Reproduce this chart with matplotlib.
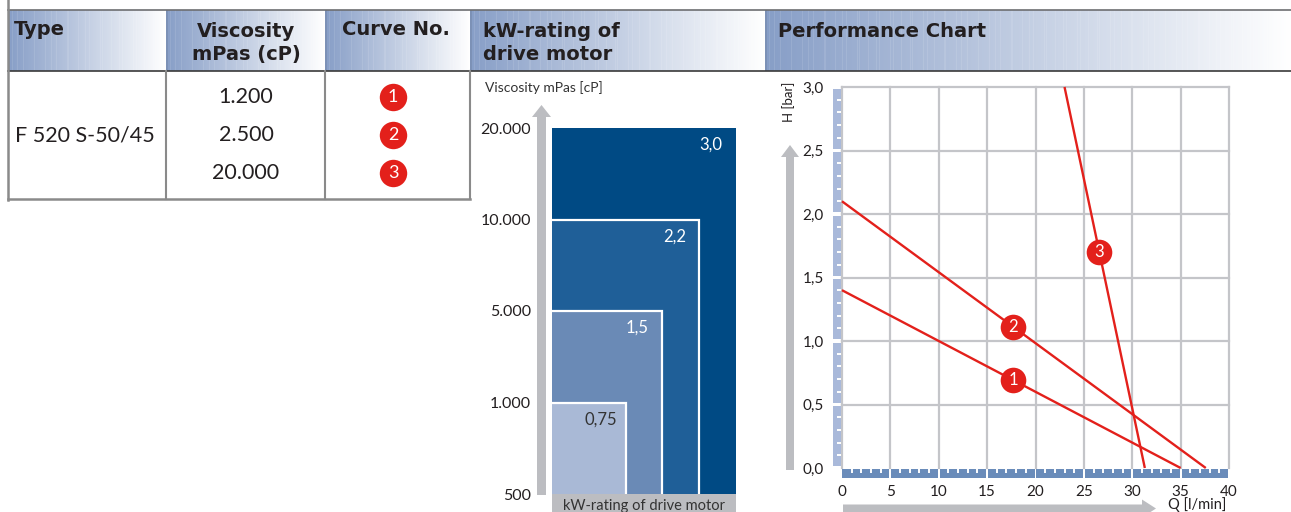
import numpy as np
import matplotlib.pyplot as plt
from matplotlib.patches import Rectangle, FancyArrow

W, H = 1291, 512

# table
pump_type = "F 520 S-50/45"
viscosities = ["1.200", "2.500", "20.000"]
curve_ids = ["1", "2", "3"]

# kW-rating of drive motor
visc_levels = ["500", "1.000", "5.000", "10.000", "20.000"]
kw_ratings = ["0,75", "1,5", "2,2", "3,0"]
kw_colors = ["#a9b9d6", "#6a8ab6", "#1f5f98", "#004a84"]
kw_text_colors = ["#333333", "white", "white", "white"]

# performance curves: Q [l/min] -> H [bar]
q_curves = [[0, 35.0], [0, 37.6], [23.0, 31.3]]
h_curves = [[1.4, 0.0], [2.1, 0.0], [3.0, 0.0]]
marker_q = [17.7, 17.7, 26.6]

RED = "#e3201b"
GREY_ARROW = "#bcbdc1"
TXT = "#231f20"
REG = "Lato"
BOLD = "DejaVu Sans"

fig = plt.figure(figsize=(W / 100, H / 100), dpi=100)
bg = fig.add_axes([0, 0, 1, 1])
bg.axis('off')


def px_axes(x0, y0, x1, y1):
    return fig.add_axes([x0 / W, 1 - y1 / H, (x1 - x0) / W, (y1 - y0) / H])


# header strip with gradient
head_cells = [(8, 166), (166, 325), (325, 470), (470, 765), (765, 1291)]
c0 = np.array([0.53, 0.62, 0.78])
for x0, x1 in head_cells:
    n = int(x1 - x0)
    t = np.linspace(0, 1, n)[:, None]
    col = c0[None, :] * (1 - t) + t
    idx = np.arange(n)
    stripe = (idx % 11 == 4) | (idx % 17 == 9)
    col[stripe] = col[stripe] * 0.9 + 0.1
    col[:2] = c0 * 0.92
    img = np.repeat(col[None, :, :], 2, axis=0)
    bg.imshow(img, extent=(x0, x1, 71, 10), aspect='auto', interpolation='nearest', zorder=0)

bg.plot([8, W], [9.5, 9.5], color="#6d6e71", lw=1.2)
bg.plot([8, W], [71, 71], color="#3a3a3a", lw=1.2)
bg.plot([8, 8], [0, 200], color="#8a8a8a", lw=1.8)
for x in [166, 325, 470]:
    bg.plot([x, x], [71, 199], color="#8a8a8a", lw=1.5)
bg.plot([8, 470], [199, 199], color="#8a8a8a", lw=1.8)

hkw = dict(family=BOLD, weight='bold', fontsize=14, color=TXT)
bg.text(14, 35, "Type", ha='left', va='baseline', **hkw)
bg.text(246, 37, "Viscosity", ha='center', va='baseline', **hkw)
bg.text(246, 60, "mPas (cP)", ha='center', va='baseline', **hkw)
bg.text(396, 35, "Curve No.", ha='center', va='baseline', **hkw)
bg.text(483, 37, "kW-rating of", ha='left', va='baseline', **hkw)
bg.text(483, 60, "drive motor", ha='left', va='baseline', **hkw)
bg.text(778, 37, "Performance Chart", ha='left', va='baseline', **hkw)

# table body
row_y = [97, 135, 173]
bg.text(15, 135, pump_type, ha='left', va='center', family=REG, fontsize=15.5, color=TXT)
for y, v, c in zip(row_y, viscosities, curve_ids):
    bg.text(246, y, v, ha='center', va='center', family=REG, fontsize=15.5, color=TXT)
    bg.scatter([393], [y], s=390, color=RED, zorder=5, lw=0)
    bg.text(393, y + 0.5, c, ha='center', va='center', family=REG, fontsize=13,
            color='white', zorder=6)

# kW-rating block
bg.text(485, 88, "Viscosity mPas [cP]", ha='left', va='center', family=REG, fontsize=10, color="#333333")
bg.add_patch(FancyArrow(541.5, 495, 0, -390, width=9, head_width=19, head_length=12,
                        length_includes_head=True, color=GREY_ARROW, lw=0))
bg.add_patch(Rectangle((552, 494), 184, 20, color=GREY_ARROW, lw=0))
bg.text(644, 506, "kW-rating of drive motor", ha='center', va='center', family=REG,
        fontsize=10.5, color="#333333")

ax_kw = px_axes(552, 128, 736, 494)
ax_kw.set_xlim(0, 5)
ax_kw.set_ylim(0, 4)
for i in reversed(range(len(kw_ratings))):
    w, h = i + 2, i + 1
    ax_kw.bar(0, h, width=w, bottom=0, align='edge', color=kw_colors[i], lw=0)
    if i < len(kw_ratings) - 1:
        ax_kw.plot([0, w, w], [h, h, 0], color='white', lw=1.6, solid_joinstyle='miter')
    ax_kw.annotate(kw_ratings[i], (w, h), xytext=(-25, -17), textcoords='offset pixels',
                   ha='center', va='center', family=REG, fontsize=12, color=kw_text_colors[i])
ax_kw.set_xticks([])
ax_kw.set_yticks(range(len(visc_levels)), visc_levels)
ax_kw.tick_params(axis='y', length=0, pad=15, labelsize=11.5, labelcolor=TXT)
for lab in ax_kw.get_yticklabels():
    lab.set_family(REG)
for s in ax_kw.spines.values():
    s.set_visible(False)

# performance chart
bg.add_patch(FancyArrow(790, 470, 0, -325, width=8, head_width=18, head_length=12,
                        length_includes_head=True, color=GREY_ARROW, lw=0))
bg.add_patch(FancyArrow(843, 508.5, 313, 0, width=8, head_width=18, head_length=14,
                        length_includes_head=True, color=GREY_ARROW, lw=0))
bg.text(789, 102, "H [bar]", rotation=90, ha='center', va='center', family=REG, fontsize=9.5, color=TXT)
bg.text(1168, 497, "Q [l/min]", ha='left', va='top', family=REG, fontsize=10.5, color=TXT)

ax = px_axes(842, 87, 1229, 468)
ax.set_xlim(0, 40)
ax.set_ylim(0, 3)
for x in range(0, 41, 5):
    ax.axvline(x, color="#c4c5c9", lw=1.6, zorder=0, clip_on=False)
for y in np.arange(0.5, 3.01, 0.5):
    ax.axhline(y, color="#c4c5c9", lw=1.6, zorder=0, clip_on=False)
for q, h, mq, cid in zip(q_curves, h_curves, marker_q, curve_ids):
    ax.plot(q, h, color=RED, lw=1.7, solid_capstyle='butt', zorder=3, clip_on=False)
    mh = np.interp(mq, q, h)
    ax.scatter([mq], [mh], s=340, color=RED, zorder=5, lw=0, clip_on=False)
    ax.text(mq, mh, cid, ha='center', va='center', family=REG, fontsize=12,
            color='white', zorder=6)
ax.set_xticks(range(0, 41, 5))
ax.set_yticks(np.arange(0, 3.01, 0.5))
ax.set_yticklabels([f"{v:.1f}".replace('.', ',') for v in np.arange(0, 3.01, 0.5)])
ax.tick_params(length=0, labelsize=11, labelcolor=TXT)
ax.tick_params(axis='x', pad=12)
ax.tick_params(axis='y', pad=13)
for lab in ax.get_xticklabels() + ax.get_yticklabels():
    lab.set_family(REG)
for s in ax.spines.values():
    s.set_visible(False)

# scale bars along the axes
axb = px_axes(842, 469, 1229, 478)
axb.set_xlim(0, 40)
axb.set_ylim(0, 1)
axb.axis('off')
for s in range(0, 40, 5):
    axb.add_patch(Rectangle((s + (0 if s == 0 else 0.1), 0), 4.8 if s else 4.9, 1, color="#6a8cba", lw=0))
for k in range(1, 40):
    if k % 5:
        axb.vlines(k, 0.55, 1, color='white', lw=1.4)

axl = px_axes(833, 87, 841, 468)
axl.set_xlim(0, 1)
axl.set_ylim(0, 3)
axl.axis('off')
for s in np.arange(0, 3, 0.5):
    axl.add_patch(Rectangle((0, s + 0.012), 1, 0.476, color="#a9b9da", lw=0))
for k in range(1, 30):
    if k % 5:
        axl.hlines(k / 10, 0.45, 1, color='white', lw=1.4)

bg.set_xlim(0, W)
bg.set_ylim(H, 0)

fig.savefig("out.png", dpi=100)
